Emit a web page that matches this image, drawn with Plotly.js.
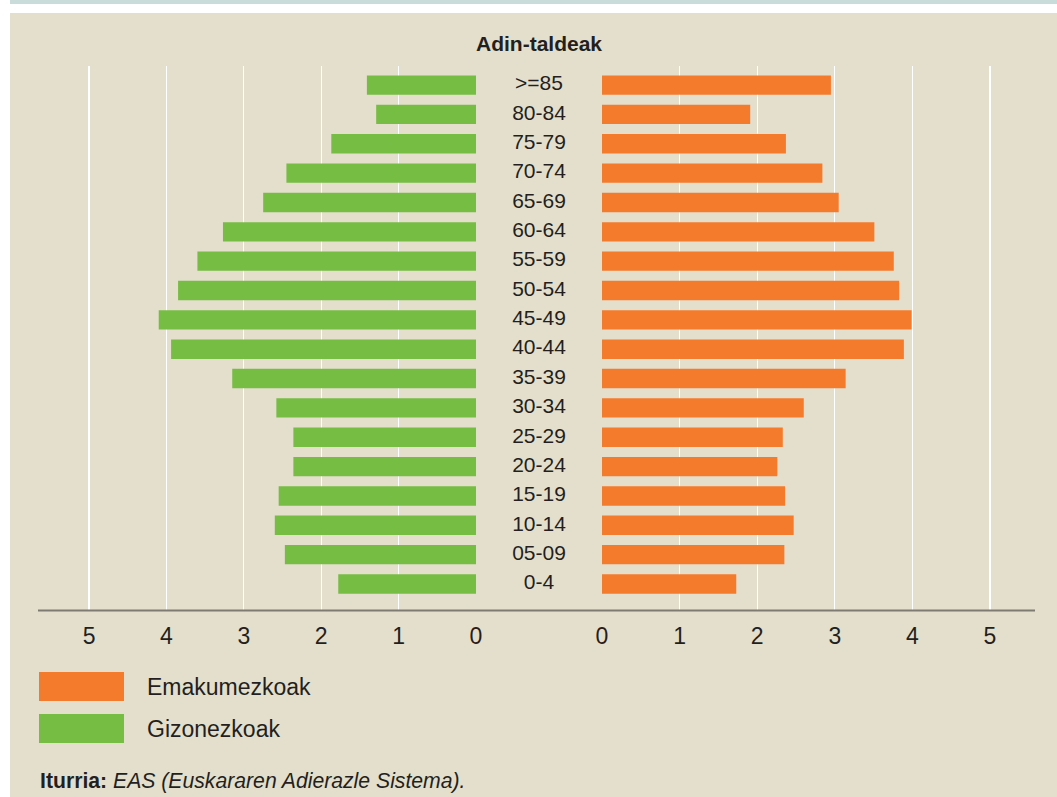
<!DOCTYPE html>
<html>
<head>
<meta charset="utf-8">
<script src="https://cdn.plot.ly/plotly-3.0.1.min.js"></script>
<style>html,body{margin:0;padding:0;background:#fff;}#chart{width:1057px;height:797px;}</style>
</head>
<body>
<div id="chart"></div>
<script>
const categories = ['0-4','05-09','10-14','15-19','20-24','25-29','30-34','35-39','40-44','45-49','50-54','55-59','60-64','65-69','70-74','75-79','80-84','>=85'];
const gizonezkoak = [1.78,2.47,2.60,2.55,2.36,2.36,2.58,3.15,3.94,4.10,3.85,3.60,3.27,2.75,2.45,1.87,1.29,1.41];
const emakumezkoak = [1.73,2.35,2.47,2.36,2.26,2.33,2.60,3.14,3.89,3.99,3.83,3.76,3.51,3.05,2.84,2.37,1.91,2.95];
const tickValues = [0,1,2,3,4,5];
const seriesNames = ['Emakumezkoak','Gizonezkoak'];
const titleText = 'Adin-taldeak';
const sourceText = '<b>Iturria:</b> <i>EAS (Euskararen Adierazle Sistema).</i>';

const W = 1057, H = 797, T = 66, B = 187;
const PH = H - T - B;
const px = v => v / W;
const py = v => (H - B - v) / PH;

const ORANGE = '#f47a2c', GREEN = '#76bd43', TXT = '#231f20';
const FONT = '"Liberation Sans", Arial, Helvetica, sans-serif';

const traces = [
  {type:'bar', orientation:'h', x:gizonezkoak, y:categories, xaxis:'x', yaxis:'y',
   marker:{color:GREEN}, width:0.66, name:seriesNames[1], showlegend:false, hoverinfo:'x+y'},
  {type:'bar', orientation:'h', x:emakumezkoak, y:categories, xaxis:'x2', yaxis:'y',
   marker:{color:ORANGE}, width:0.66, name:seriesNames[0], showlegend:false, hoverinfo:'x+y'},
  {type:'scatter', mode:'text', x:categories.map(()=>0.5), y:categories, text:categories,
   xaxis:'x3', yaxis:'y', textfont:{family:FONT, size:21, color:TXT}, showlegend:false, hoverinfo:'skip'}
];

const axisCommon = {
  tickvals:tickValues, showgrid:true, gridcolor:'#ffffff', gridwidth:1.3,
  zeroline:false, showline:false, ticks:'', anchor:'y', ticklabelstandoff:10,
  tickfont:{family:FONT, size:23, color:TXT}, fixedrange:true
};

const layout = {
  width:W, height:H,
  margin:{l:0, r:0, t:T, b:B, pad:0},
  paper_bgcolor:'#ffffff', plot_bgcolor:'rgba(0,0,0,0)',
  font:{family:FONT, color:TXT},
  bargap:0.3,
  xaxis:Object.assign({}, axisCommon, {domain:[px(38), px(476)], range:[5.66, 0]}),
  xaxis2:Object.assign({}, axisCommon, {domain:[px(602), px(1035)], range:[0, 5.58]}),
  xaxis3:{domain:[px(476), px(602)], range:[0,1], visible:false, anchor:'y', fixedrange:true},
  yaxis:{type:'category', categoryarray:categories, categoryorder:'array', range:[-0.886, 17.65],
         showticklabels:false, showgrid:false, zeroline:false, showline:false, fixedrange:true, domain:[0,1]},
  shapes:[
    {type:'rect', xref:'paper', yref:'paper', x0:px(10), x1:px(1057), y0:py(797), y1:py(13),
     fillcolor:'#e4dfcd', line:{width:0}, layer:'below'},
    {type:'rect', xref:'paper', yref:'paper', x0:px(10), x1:px(1057), y0:py(4), y1:py(0),
     fillcolor:'#c9dcd9', line:{width:0}, layer:'below'},
    {type:'line', xref:'paper', yref:'paper', x0:px(38), x1:px(1035), y0:py(610.5), y1:py(610.5),
     line:{color:'#7d7b72', width:2}},
    {type:'rect', xref:'paper', yref:'paper', x0:px(39), x1:px(124), y0:py(701), y1:py(672),
     fillcolor:ORANGE, line:{width:0}},
    {type:'rect', xref:'paper', yref:'paper', x0:px(39), x1:px(124), y0:py(743), y1:py(714),
     fillcolor:GREEN, line:{width:0}}
  ],
  annotations:[
    {text:'<b>'+titleText+'</b>', xref:'paper', yref:'paper', x:px(539), y:py(44),
     xanchor:'center', yanchor:'middle', showarrow:false, font:{family:FONT, size:21, color:TXT}},
    {text:seriesNames[0], xref:'paper', yref:'paper', x:px(145), y:py(687),
     xanchor:'left', yanchor:'middle', showarrow:false, font:{family:FONT, size:23, color:TXT}},
    {text:seriesNames[1], xref:'paper', yref:'paper', x:px(145), y:py(729),
     xanchor:'left', yanchor:'middle', showarrow:false, font:{family:FONT, size:23, color:TXT}},
    {text:sourceText, xref:'paper', yref:'paper', x:px(38), y:py(781),
     xanchor:'left', yanchor:'middle', showarrow:false, font:{family:FONT, size:21.2, color:TXT}}
  ]
};

Plotly.newPlot('chart', traces, layout, {displayModeBar:false, staticPlot:true});
</script>
</body>
</html>
